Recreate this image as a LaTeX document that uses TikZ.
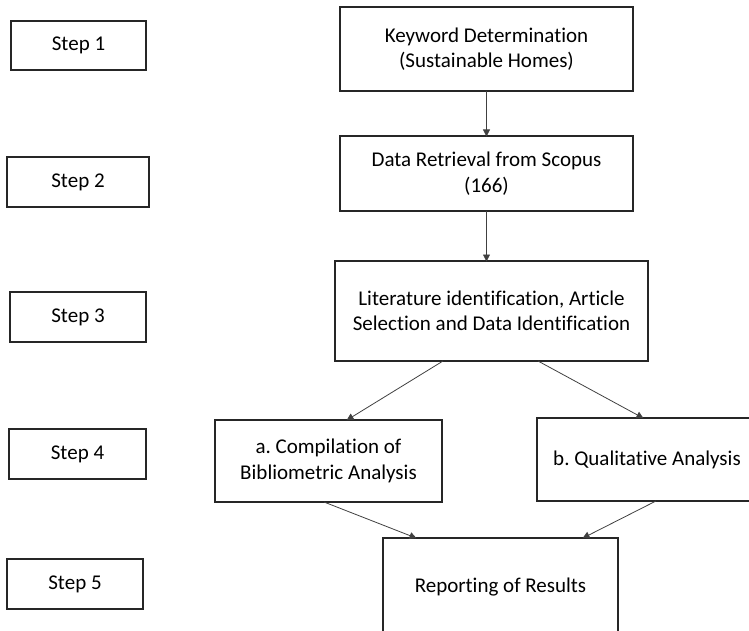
\documentclass[tikz,border=0pt]{standalone}
\usepackage{fontspec}
\setmainfont{Carlito}[Ligatures={NoCommon}]
\usetikzlibrary{arrows.meta,calc}

\tikzset{
  box/.style={draw=black!85, line width=1.4pt, rectangle, inner sep=0pt, outer sep=0pt,
    align=center, font=\fontsize{21}{25.5}\selectfont\frenchspacing},
  stepbox/.style={box},
  arr/.style={draw=black!75, line width=0.8pt, -{Triangle[length=7pt,width=7pt]}, shorten >=-0.5pt}
}

\begin{document}
\begin{tikzpicture}[x=1pt,y=-1pt]
  \useasboundingbox (0,0) rectangle (749,631);
  \clip (0,0) rectangle (749,631);

  % step labels on the left
  \node[stepbox, minimum width=135pt, minimum height=49pt] (s1) at (78.5,45.5) {Step 1};
  \node[stepbox, minimum width=142pt, minimum height=50pt] (s2) at (78,182) {Step 2};
  \node[stepbox, minimum width=136pt, minimum height=50pt] (s3) at (78,317) {Step 3};
  \node[stepbox, minimum width=137pt, minimum height=50pt] (s4) at (77.5,454) {Step 4};
  \node[stepbox, minimum width=136pt, minimum height=50pt] (s5) at (75,584) {Step 5};

  % process boxes
  \node[box, minimum width=293pt, minimum height=84pt] (kw) at (486.5,49)
    {Keyword Determination\\(Sustainable Homes)};
  \node[box, minimum width=293pt, minimum height=75pt] (dr) at (486.5,173.5)
    {Data Retrieval from Scopus\\(166)};
  \node[box, minimum width=313pt, minimum height=100pt] (lit) at (491.5,311)
    {Literature identification, Article\\Selection and Data Identification};
  \node[box, minimum width=227pt, minimum height=82pt] (a) at (328.5,461)
    {a. Compilation of\\Bibliometric Analysis};
  \node[box, minimum width=220pt, minimum height=83pt] (b) at (647,459.5)
    {b. Qualitative Analysis};
  \node[box, minimum width=235pt, minimum height=98pt] (rep) at (500.5,587)
    {Reporting of Results};

  % connectors
  \draw[arr] (kw.south) -- (dr.north);
  \draw[arr] (dr.south) -- (dr.south |- lit.north);
  \draw[arr] ($(lit.south west)+(108,0)$) -- ($(a.north west)+(132,0)$);
  \draw[arr] ($(lit.south west)+(203,0)$) -- ($(b.north west)+(106,0)$);
  \draw[arr] ($(a.south west)+(109,0)$) -- ($(rep.north west)+(33,0)$);
  \draw[arr] ($(b.south west)+(119,0)$) -- ($(rep.north west)+(200,0)$);
\end{tikzpicture}
\end{document}
